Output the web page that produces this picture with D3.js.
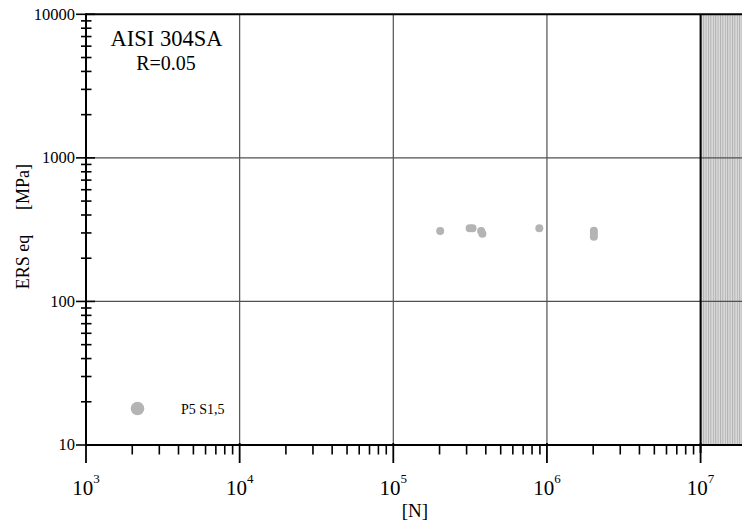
<!DOCTYPE html>
<html>
<head>
<meta charset="utf-8">
<script src="https://cdn.jsdelivr.net/npm/d3@7"></script>
<style>
  body { margin: 0; background: #fff; }
  svg { display: block; font-family: "Liberation Serif", "Times New Roman", serif; }
</style>
</head>
<body>
<div id="chart"></div>
<script>
// cycles to failure [N]
const cycles = [2.02e5, 3.14e5, 3.28e5, 3.73e5, 3.8e5, 8.92e5, 2.02e6, 2.02e6, 2.02e6];
// equivalent stress [MPa]
const stress = [309, 323, 323, 310, 296, 323, 311, 297, 282];

const seriesName = "P5 S1,5";
const titleText = "AISI 304SA";
const subtitleText = "R=0.05";
const xTickExps = [3, 4, 5, 6, 7];
const yTickValues = [10, 100, 1000, 10000];
const runoutLimit = 1e7;
const xMax = 1.86e7;

const width = 742, height = 526;

const svg = d3.select("#chart")
  .append("svg")
  .attr("width", width)
  .attr("height", height);

const x = d3.scaleLog().domain([1e3, xMax]).range([86, 742]);
const y = d3.scaleLog().domain([10, 10000]).range([445, 14.3]);

// hatched run-out region
const defs = svg.append("defs");
const pat = defs.append("pattern")
  .attr("id", "hatch")
  .attr("patternUnits", "userSpaceOnUse")
  .attr("width", 2.4)
  .attr("height", 4);
pat.append("rect").attr("width", 2.4).attr("height", 4).attr("fill", "#dcdcdc");
pat.append("rect").attr("width", 1).attr("height", 4).attr("fill", "#b0b0b0");

svg.append("rect")
  .attr("x", x(runoutLimit))
  .attr("y", y(10000))
  .attr("width", x(xMax) - x(runoutLimit))
  .attr("height", y(10) - y(10000))
  .attr("fill", "url(#hatch)");

// grid
const g = svg.append("g");
g.selectAll(".vgrid")
  .data(xTickExps.slice(1, -1))
  .enter().append("line")
  .attr("class", "vgrid")
  .attr("x1", d => x(Math.pow(10, d)))
  .attr("x2", d => x(Math.pow(10, d)))
  .attr("y1", y(10000))
  .attr("y2", y(10))
  .attr("stroke", "#505050")
  .attr("stroke-width", 1.2);

g.selectAll(".hgrid")
  .data(yTickValues.slice(1, -1))
  .enter().append("line")
  .attr("class", "hgrid")
  .attr("x1", x(1e3))
  .attr("x2", x(xMax))
  .attr("y1", d => y(d))
  .attr("y2", d => y(d))
  .attr("stroke", "#505050")
  .attr("stroke-width", 1.2);

// run-out boundary
g.append("line")
  .attr("x1", x(runoutLimit)).attr("x2", x(runoutLimit))
  .attr("y1", y(10000)).attr("y2", y(10) + 8)
  .attr("stroke", "#000").attr("stroke-width", 2);

// frame lines
g.append("line")
  .attr("x1", x(1e3)).attr("x2", x(xMax))
  .attr("y1", y(10000)).attr("y2", y(10000))
  .attr("stroke", "#000").attr("stroke-width", 2);
g.append("line")
  .attr("x1", x(1e3)).attr("x2", x(xMax))
  .attr("y1", y(10)).attr("y2", y(10))
  .attr("stroke", "#000").attr("stroke-width", 2);
g.append("line")
  .attr("x1", x(1e3)).attr("x2", x(1e3))
  .attr("y1", y(10000) - 1).attr("y2", y(10) + 1)
  .attr("stroke", "#000").attr("stroke-width", 2);

// y ticks
const yMinor = [];
yTickValues.slice(0, -1).forEach(v => {
  for (let k = 2; k <= 9; k++) yMinor.push(v * k);
});
g.selectAll(".ymin")
  .data(yMinor)
  .enter().append("line")
  .attr("x1", x(1e3) - 5).attr("x2", x(1e3) + 5.5)
  .attr("y1", d => y(d)).attr("y2", d => y(d))
  .attr("stroke", "#000").attr("stroke-width", 1.6);
g.selectAll(".ymaj")
  .data(yTickValues)
  .enter().append("line")
  .attr("x1", x(1e3) - 10).attr("x2", x(1e3) + 9)
  .attr("y1", d => y(d)).attr("y2", d => y(d))
  .attr("stroke", "#000").attr("stroke-width", 1.6);
g.selectAll(".ylab")
  .data(yTickValues)
  .enter().append("text")
  .attr("x", x(1e3) - 11)
  .attr("y", d => y(d))
  .attr("dy", "0.33em")
  .attr("text-anchor", "end")
  .style("font-size", "16.5px")
  .text(d => d);

// x ticks
const xMinor = [];
xTickExps.forEach(e => {
  for (let k = 2; k <= 9; k++) {
    const v = k * Math.pow(10, e);
    if (v < xMax) xMinor.push(v);
  }
});
g.selectAll(".xmin")
  .data(xMinor)
  .enter().append("line")
  .attr("x1", d => x(d)).attr("x2", d => x(d))
  .attr("y1", y(10)).attr("y2", y(10) + 9.5)
  .attr("stroke", "#000").attr("stroke-width", 1.6);
g.selectAll(".xmaj")
  .data(xTickExps)
  .enter().append("line")
  .attr("x1", d => x(Math.pow(10, d))).attr("x2", d => x(Math.pow(10, d)))
  .attr("y1", y(10) - 2).attr("y2", y(10) + 18)
  .attr("stroke", "#000").attr("stroke-width", 1.8);
const xl = g.selectAll(".xlab")
  .data(xTickExps)
  .enter().append("text")
  .attr("x", d => x(Math.pow(10, d)))
  .attr("y", 495)
  .attr("text-anchor", "middle")
  .style("font-size", "21px");
xl.append("tspan").text("10");
xl.append("tspan")
  .attr("dy", -12)
  .style("font-size", "13px")
  .text(d => d);

// axis titles
svg.append("text")
  .attr("x", 415)
  .attr("y", 517)
  .attr("text-anchor", "middle")
  .style("font-size", "19px")
  .text("[N]");

svg.append("text")
  .attr("transform", "translate(29,262) rotate(-90)")
  .attr("text-anchor", "middle")
  .style("font-size", "18px")
  .text("ERS eq");
svg.append("text")
  .attr("transform", "translate(29,187) rotate(-90)")
  .attr("text-anchor", "middle")
  .style("font-size", "18px")
  .text("[MPa]");

// title block
svg.append("text")
  .attr("x", 166.5).attr("y", 45.5)
  .attr("text-anchor", "middle")
  .style("font-size", "22.5px")
  .text(titleText);
svg.append("text")
  .attr("x", 166).attr("y", 70)
  .attr("text-anchor", "middle")
  .style("font-size", "20px")
  .text(subtitleText);

// data points
const pts = cycles.map((c, i) => ({ n: c, s: stress[i] }));
svg.append("g")
  .selectAll("circle")
  .data(pts)
  .enter().append("circle")
  .attr("cx", d => x(d.n))
  .attr("cy", d => y(d.s))
  .attr("r", 4)
  .attr("fill", "#b4b4b4");

// legend
svg.append("circle")
  .attr("cx", 137.5).attr("cy", 408.5)
  .attr("r", 6.8)
  .attr("fill", "#b4b4b4");
svg.append("text")
  .attr("x", 181).attr("y", 413.5)
  .style("font-size", "14px")
  .text(seriesName);
</script>
</body>
</html>
